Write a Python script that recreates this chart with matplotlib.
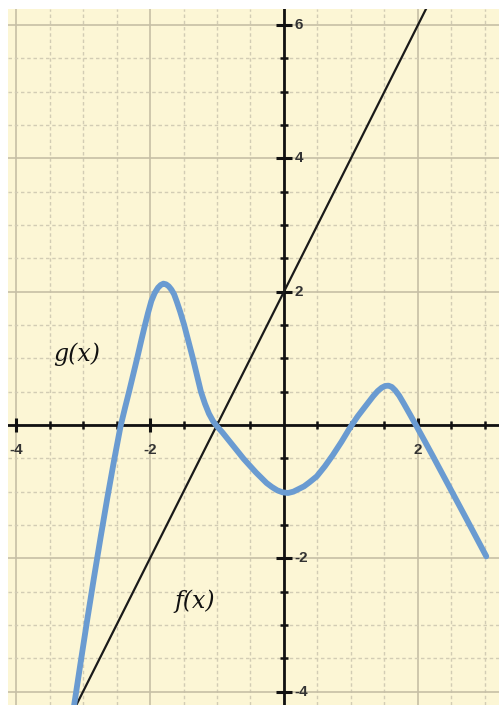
import matplotlib
matplotlib.use('Agg')
import matplotlib.pyplot as plt
import numpy as np

# g(x): points
g_x = [-3.17, -3.04, -2.94, -2.84, -2.74, -2.64, -2.54, -2.44, -2.37, -2.31,
       -2.25, -2.19, -2.13, -2.08, -2.03, -1.98, -1.93, -1.88, -1.84, -1.80,
       -1.76, -1.72, -1.68, -1.64, -1.60, -1.55, -1.49, -1.43, -1.36, -1.30,
       -1.24, -1.18, -1.12, -1.06, -1.00, -0.92, -0.84, -0.76, -0.68, -0.60,
       -0.51, -0.42, -0.34, -0.26, -0.18, -0.10, -0.02, 0.06, 0.14, 0.22,
       0.30, 0.38, 0.49, 0.61, 0.73, 0.86, 0.98, 1.10, 1.23, 1.33,
       1.40, 1.46, 1.51, 1.56, 1.61, 1.66, 1.72, 1.79, 1.88, 1.98,
       2.10, 2.23, 2.48, 2.73, 3.02]
g_y = [-4.45, -3.59, -2.94, -2.31, -1.70, -1.11, -0.55, -0.02, 0.27, 0.51,
       0.76, 1.01, 1.27, 1.48, 1.68, 1.86, 1.98, 2.06, 2.10, 2.12,
       2.11, 2.08, 2.03, 1.96, 1.85, 1.70, 1.50, 1.27, 1.00, 0.75,
       0.50, 0.32, 0.17, 0.06, -0.02, -0.11, -0.21, -0.31, -0.41, -0.51,
       -0.61, -0.71, -0.79, -0.87, -0.93, -0.98, -1.01, -1.02, -1.00, -0.96,
       -0.92, -0.86, -0.77, -0.62, -0.45, -0.25, -0.05, 0.13, 0.30, 0.43,
       0.51, 0.56, 0.585, 0.59, 0.57, 0.52, 0.44, 0.32, 0.16, -0.02,
       -0.24, -0.48, -0.95, -1.42, -1.97]

# f(x): straight line, two points on it
f_x = [-4.0, 3.0]
f_y = [-6.0, 8.0]

x_label_values = [-4, -2, 2]
x_label_texts = ['-4', '-2', '2']
y_label_values = [6, 4, 2, -2, -4]
y_label_texts = ['6', '4', '2', '-2', '-4']

fig = plt.figure(figsize=(4.99, 7.05), dpi=100)
fig.patch.set_facecolor('white')
ax = fig.add_axes([8 / 499, 0, 1 - 8 / 499, 1 - 9 / 705])
ax.set_xlim(-4.12, 3.21)
ax.set_ylim(-4.2, 6.24)
ax.set_facecolor('#fcf6d5')
for s in ax.spines.values():
    s.set_visible(False)
ax.set_xticks([])
ax.set_yticks([])

major_c = '#c6bfa6'
minor_c = '#d2ccb4'
for v in np.arange(-4.0, 3.01, 0.5):
    if abs(v % 2) < 1e-9:
        ax.axvline(v, color=major_c, lw=1.2, zorder=1)
    else:
        ax.axvline(v, color=minor_c, lw=1.0, ls=(0, (2.5, 2)), zorder=1)
for v in np.arange(-4.0, 6.01, 0.5):
    if abs(v % 2) < 1e-9:
        ax.axhline(v, color=major_c, lw=1.2, zorder=1)
    else:
        ax.axhline(v, color=minor_c, lw=1.0, ls=(0, (2.5, 2)), zorder=1)

# axes through origin
ax.axhline(0, color='#111111', lw=2.0, zorder=3)
ax.axvline(0, color='#111111', lw=2.0, zorder=3)

xt = np.arange(-4.0, 3.01, 0.5)
xt_major = [v for v in xt if abs(v % 2) < 1e-9 and v != 0]
xt_minor = [v for v in xt if abs(v % 2) > 1e-9]
ax.plot(xt_minor, [0] * len(xt_minor), ls='none', marker='|', ms=6, mew=1.8, color='#111111', zorder=3)
ax.plot(xt_major, [0] * len(xt_major), ls='none', marker='|', ms=9.5, mew=2.2, color='#111111', zorder=3)
yt = np.arange(-4.0, 6.01, 0.5)
yt_major = [v for v in yt if abs(v % 2) < 1e-9 and v != 0]
yt_minor = [v for v in yt if abs(v % 2) > 1e-9]
ax.plot([0] * len(yt_minor), yt_minor, ls='none', marker='_', ms=6, mew=1.8, color='#111111', zorder=3)
ax.plot([0] * len(yt_major), yt_major, ls='none', marker='_', ms=11, mew=2.2, color='#111111', zorder=3)

lab_kw = dict(fontsize=11, fontweight='bold', color='#333333', family='Liberation Sans', zorder=4)
for v, t in zip(x_label_values, x_label_texts):
    ax.annotate(t, (v, 0), xytext=(0, -18), textcoords='offset points', ha='center', va='center', **lab_kw)
for v, t in zip(y_label_values, y_label_texts):
    ax.annotate(t, (0, v), xytext=(7.5, 0), textcoords='offset points', ha='left', va='center', **lab_kw)

# curves
ax.plot(f_x, f_y, color='#1a1a1a', lw=1.6, zorder=5)
ax.plot(g_x, g_y, color='#6a9bd1', lw=4.2, solid_capstyle='round', solid_joinstyle='round', zorder=6)

txt_kw = dict(fontsize=17, fontstyle='italic', family='DejaVu Serif', color='#111111', ha='center', va='center', zorder=7)
ax.text(-3.1, 1.06, 'g(x)', **txt_kw)
ax.text(-1.33, -2.65, 'f(x)', **txt_kw)

fig.savefig('out.png', dpi=100, facecolor='white')
